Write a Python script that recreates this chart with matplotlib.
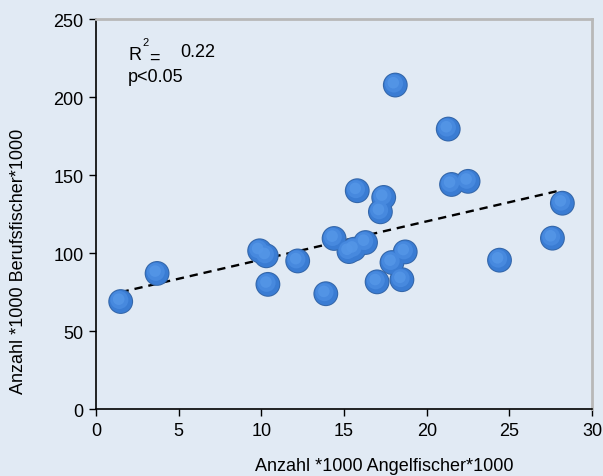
import numpy as np
import matplotlib.pyplot as plt

plt.rcParams['font.family'] = ['Liberation Sans', 'DejaVu Sans']

# Angelfischer (x) vs Berufsfischer (y)
angler = [1.5, 3.7, 9.9, 10.3, 10.4, 12.2, 13.9, 14.4, 15.3, 15.6, 16.3,
          15.8, 17.4, 17.2, 17.0, 17.9, 18.7, 18.5, 18.1, 21.3, 21.5, 22.5,
          24.4, 27.6, 28.2]
fisher = [69, 87, 101.5, 98.3, 80, 95, 74, 109.4, 101, 102.5, 106.8,
          140, 135.7, 126.5, 81.6, 94, 100.8, 83, 207.7, 179.5, 144, 146,
          95.5, 109.6, 132]

# regression line as drawn
fit_x = [1.5, 28.0]
fit_y = [75, 140]

xticks = [0, 5, 10, 15, 20, 25, 30]
yticks = [0, 50, 100, 150, 200, 250]

bg = '#e1eaf4'
fs = 13

fig = plt.figure(figsize=(6.03, 4.77), dpi=100, facecolor=bg)
ax = fig.add_axes([0.159, 0.140, 0.823, 0.818], facecolor=bg)

ax.plot(fit_x, fit_y, color='black', linestyle=(0, (3.5, 2.5)), linewidth=1.7, zorder=2)

x = np.array(angler)
y = np.array(fisher)
# fake 3D spheres: dark rim, body, then highlights
ax.scatter(x, y, s=320, color='#3466a8', edgecolors='none', zorder=3)
ax.scatter(x, y, s=270, color='#3a7cd3', edgecolors='none', zorder=4)
ax.scatter(x - 0.08, y + 1.0, s=170, color='#4789de', edgecolors='none', zorder=5)
ax.scatter(x - 0.12, y + 1.5, s=70, color='#5597e8', edgecolors='none', alpha=0.8, zorder=6)

ax.set_xlim(0, 30)
ax.set_ylim(0, 250)
ax.set_xticks(xticks)
ax.set_yticks(yticks)
ax.tick_params(direction='out', length=5, width=1, labelsize=fs, colors='black', pad=4)

for s in ['left', 'bottom']:
    ax.spines[s].set_color('black')
    ax.spines[s].set_linewidth(1.2)
for s in ['top', 'right']:
    ax.spines[s].set_color('#b8b8b8')
    ax.spines[s].set_linewidth(2)

ax.text(0.065, 0.908, 'R', transform=ax.transAxes, fontsize=fs, va='center')
ax.text(0.093, 0.94, '2', transform=ax.transAxes, fontsize=8, va='center')
ax.text(0.107, 0.902, '=', transform=ax.transAxes, fontsize=fs, va='center')
ax.text(0.17, 0.918, '0.22', transform=ax.transAxes, fontsize=fs, va='center')
ax.text(0.065, 0.853, 'p<0.05', transform=ax.transAxes, fontsize=fs, va='center')

fig.text(0.638, 0.021, 'Anzahl *1000 Angelfischer*1000', fontsize=fs, ha='center', va='center')
fig.text(0.031, 0.451, 'Anzahl *1000 Berufsfischer*1000', fontsize=fs, ha='center',
         va='center', rotation=90)

fig.savefig('out.png', dpi=100, facecolor=bg)
